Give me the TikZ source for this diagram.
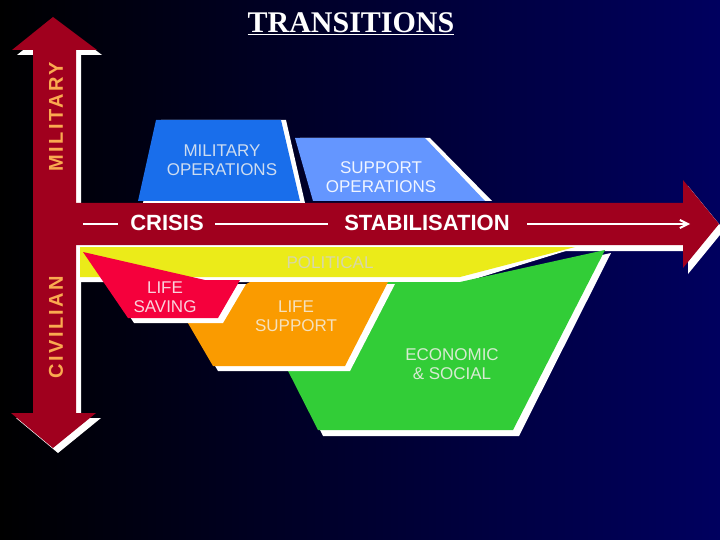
\documentclass[tikz,border=0pt]{standalone}
\usepackage{fontspec}
\setmainfont{Liberation Sans}
\newfontfamily\timesf{Liberation Serif}
\usetikzlibrary{arrows.meta}
\definecolor{bgr}{RGB}{0,0,95}
\definecolor{bgb}{RGB}{0,0,80}
\definecolor{arr}{RGB}{160,0,30}
\definecolor{milc}{RGB}{25,110,235}
\definecolor{milt}{RGB}{205,220,240}
\definecolor{supc}{RGB}{100,150,255}
\definecolor{supt}{RGB}{240,245,255}
\definecolor{polc}{RGB}{235,235,25}
\definecolor{polt}{RGB}{215,215,170}
\definecolor{ecoc}{RGB}{50,205,55}
\definecolor{ecot}{RGB}{215,235,210}
\definecolor{lsuc}{RGB}{250,155,0}
\definecolor{lsut}{RGB}{245,225,190}
\definecolor{lsac}{RGB}{245,0,60}
\definecolor{lsat}{RGB}{250,210,220}
\definecolor{axt}{RGB}{250,170,80}
\begin{document}
\begin{tikzpicture}[x=1pt,y=-1pt,
  sh/.style={fill=white},
  lbl/.style={align=center,inner sep=0pt,font=\fontsize{17}{19}\selectfont},
  big/.style={text=white,inner sep=0pt,font=\fontsize{22}{24}\selectfont\bfseries}]
\useasboundingbox (0,0) rectangle (720,540);
\shade[left color=black,right color=bgr] (0,0) rectangle (720,540);
% title
\node[inner sep=0pt,text=white] (title) at (351,24) {\timesf\fontsize{30}{32}\selectfont\bfseries\underline{TRANSITIONS}};
% vertical arrow shadow + arrow
\fill[sh] (58,22)--(102,55)--(81,55)--(81,418)--(101,418)--(58,453)--(16,418)--(38,418)--(38,55)--(17,55)--cycle;
\fill[arr] (53,17)--(97,50)--(76,50)--(76,413)--(96,413)--(53,448)--(11,413)--(33,413)--(33,50)--(12,50)--cycle;
% horizontal arrow
\fill[sh] (81,209)--(688,209)--(688,186)--(724,230)--(688,274)--(688,251)--(81,251)--cycle;
\fill[arr] (76,203)--(683,203)--(683,180)--(719,224)--(683,268)--(683,245)--(76,245)--cycle;
\node[big] (crisis) at (167,223) {CRISIS};
\node[big] (stab) at (427,223) {STABILISATION};
\coordinate (l0) at (83,224);
\coordinate (l1) at (118,224);
\coordinate (l2) at (215,224);
\coordinate (l3) at (328,224);
\coordinate (l4) at (527,224);
\coordinate (l5) at (690,224);
\draw[white,line width=2pt] (l0)--(l1) (l2)--(l3);
\draw[white,line width=2pt,-{Straight Barb[length=8pt,width=8pt]}] (l4)--(l5);
% military operations
\fill[sh] (161,120)--(286,120)--(305,203)--(143,203)--cycle;
\fill[milc] (156,120)--(281,120)--(300,201)--(138,201)--cycle;
\node[lbl,text=milt] (mil) at (222,160) {MILITARY\\OPERATIONS};
% support operations
\fill[sh] (300,138)--(430,138)--(492,201)--(318,201)--cycle;
\fill[supc] (295,138)--(425,138)--(485,201)--(313,201)--cycle;
\node[lbl,text=supt] (sup) at (381,177) {SUPPORT\\OPERATIONS};
% political
\fill[sh] (80,246)--(582,246)--(465,282)--(80,282)--cycle;
\fill[polc] (80,247)--(575,247)--(460,277)--(80,277)--cycle;
\node[lbl,text=polt] (pol) at (330,263) {POLITICAL};
% economic & social
\fill[sh] (285,285)--(465,285)--(611,253)--(519,436)--(323,436)--(288,366)--cycle;
\fill[ecoc] (280,282)--(460,282)--(605,250)--(513,430)--(318,430)--(283,361)--cycle;
\node[lbl,text=ecot] (eco) at (452,364) {ECONOMIC\\\& SOCIAL};
% life support
\fill[sh] (255,284)--(395,284)--(350,371)--(218,371)--(190,323)--cycle;
\fill[lsuc] (250,282)--(388,282)--(345,366)--(213,366)--(185,318)--cycle;
\node[lbl,text=lsut] (lsup) at (296,316) {LIFE\\SUPPORT};
% life saving
\fill[sh] (88,254)--(210,284)--(246,284)--(223,323)--(134,323)--cycle;
\fill[lsac] (83,252)--(205,280)--(240,280)--(218,318)--(128,318)--cycle;
\node[lbl,text=lsat] (lsav) at (165,297) {LIFE\\SAVING};
% axis labels
\node[rotate=90,inner sep=0pt,text=axt,font=\fontsize{20}{22}\selectfont\bfseries\addfontfeature{LetterSpace=12}] (milax) at (56,117) {MILITARY};
\node[rotate=90,inner sep=0pt,text=axt,font=\fontsize{20}{22}\selectfont\bfseries\addfontfeature{LetterSpace=12}] (civ) at (56,327) {CIVILIAN};
\end{tikzpicture}
\end{document}
